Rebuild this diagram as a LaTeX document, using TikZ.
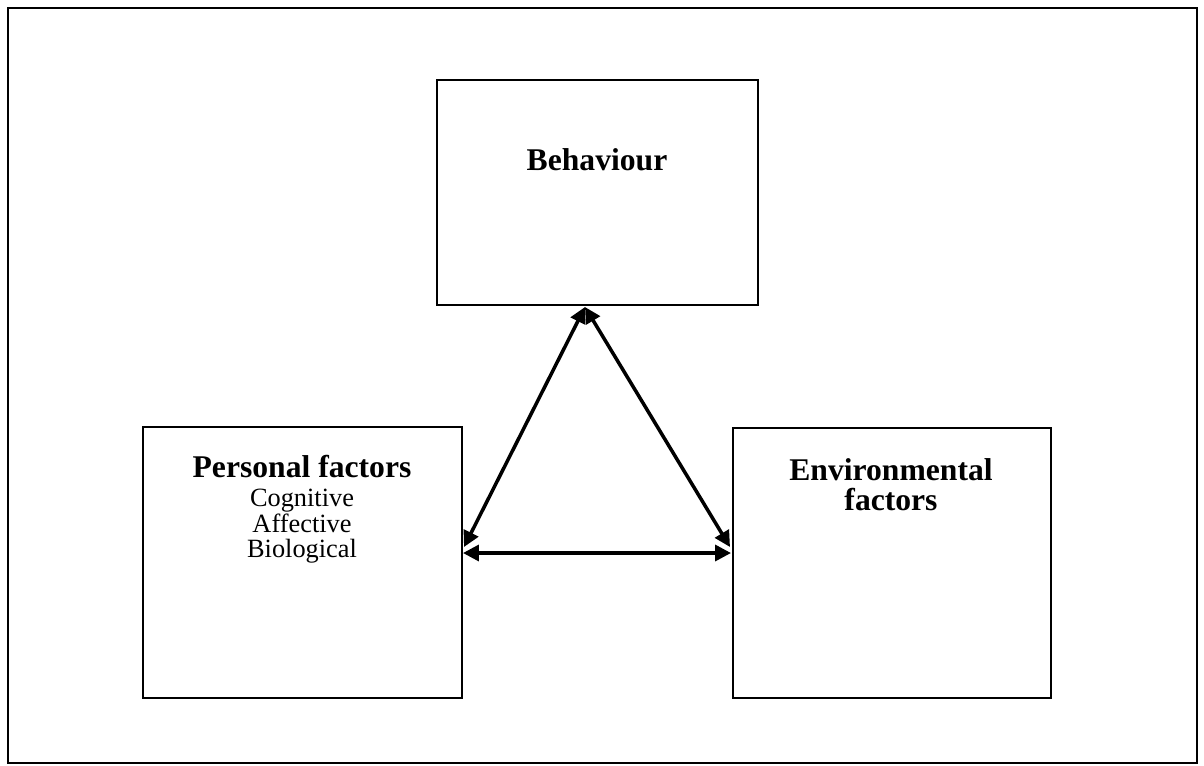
\documentclass[tikz,border=0pt]{standalone}
\usepackage{fontspec}
\setmainfont{Liberation Serif}
\usepackage{tikz}
\usetikzlibrary{arrows.meta,positioning}

\begin{document}
\begin{tikzpicture}[
x=0.02cm,y=-0.02cm,
factorbox/.style={
draw=black,
line width=1.4pt,
inner sep=0pt
},
headtext/.style={
font=\fontsize{18}{20}\selectfont\bfseries,
align=center,
inner sep=0pt
},
subtext/.style={
font=\fontsize{15}{14.5}\selectfont,
align=center,
inner sep=0pt
},
link/.style={
line width=2pt,
{Triangle[length=9pt,width=9pt]}-{Triangle[length=9pt,width=9pt]}
}
]

\useasboundingbox (0,0) rectangle (1204,765);

% outer frame
\draw[line width=1.3pt] (8,8) rectangle (1197,763);

% the three boxes
\node[factorbox,minimum width=321*0.02cm,minimum height=225*0.02cm] (behav) at (597.5,192.5) {};
\node[factorbox,minimum width=319*0.02cm,minimum height=271*0.02cm] (pers) at (302.5,562.5) {};
\node[factorbox,minimum width=318*0.02cm,minimum height=270*0.02cm] (envir) at (892,563) {};

% box texts
\node[headtext] (behavtext) at (597,160) {Behaviour};
\node[headtext] (perstext) at (302,467) {Personal factors};
\node[subtext,below=6pt of perstext] (persitems) {Cognitive\\Affective\\Biological};
\node[headtext,font=\fontsize{18}{17}\selectfont\bfseries] (envirtext) at (891,485) {Environmental\\factors};

% arrow ends
\coordinate (apex) at (585,307);
\coordinate (persup) at (464,547);
\coordinate (envirup) at (730,547);
\coordinate (perslow) at (463,553);
\coordinate (envirlow) at (731,553);

\draw[link] (apex) -- (persup);
\draw[link] (apex) -- (envirup);
\draw[link] (perslow) -- (envirlow);

\end{tikzpicture}
\end{document}
